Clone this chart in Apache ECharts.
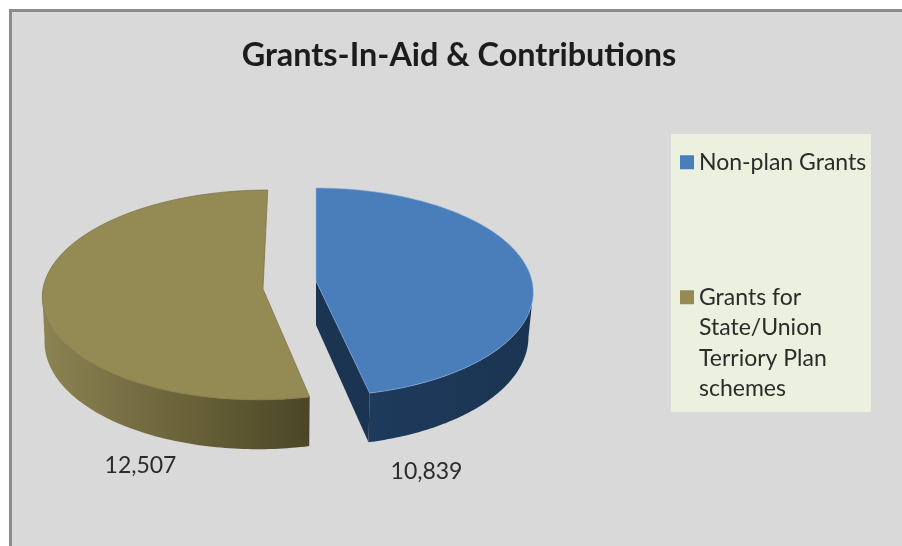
<!DOCTYPE html>
<html>
<head>
<meta charset="utf-8">
<title>Grants-In-Aid &amp; Contributions</title>
<style>html,body{margin:0;padding:0;background:#fff}#chart{width:902px;height:546px}</style>
<script src="https://cdn.jsdelivr.net/npm/echarts@6/dist/echarts.min.js"></script>
</head>
<body>
<div id="chart"></div>
<script>
const chartTitle = 'Grants-In-Aid & Contributions';
const categories = ['Non-plan Grants', 'Grants for\nState/Union\nTerriory Plan\nschemes'];
const grantValues = [10839, 12507];
const total = grantValues[0] + grantValues[1];

const FONT = 'Lato, "Open Sans", sans-serif';
const TEXT = '#2b2b2b';

// Perspective settings for each exploded wedge: centre of the rim, radii,
// foreshortening strength, horizontal lean with depth, and wall height.
const wedgeViews = [
  { cx: 316, cy: 281, rx: 216, ry: 103, k: 0.107, lean: 0, wall: 44, shrink: 0.978,
    face: '#4a7ebb', rim: 'rgba(140,180,225,0.55)',
    outer: ['#1e3a5c', '#1b3452'], inner: '#1b3452', labelX: 426.5, labelY: 472 },
  { cx: 263, cy: 289, rx: 220, ry: 104.6, k: 0.057, lean: -5, wall: 44, shrink: 0.99,
    face: '#948a54', rim: 'rgba(120,112,66,0.7)',
    outer: ['#8c8352', '#4b4625'], inner: '#4b4625', labelX: 140.5, labelY: 466 }
];

// Angles run clockwise from twelve o'clock, in radians.
function rimPoint(view, theta) {
  const u = Math.sin(theta), v = -Math.cos(theta);
  const w = 1 - view.k * v;
  return [view.cx + (view.rx * u + view.lean * v) / w, view.cy + view.ry * v / w];
}
function floorPoint(view, p, v) {
  return [view.cx + (p[0] - view.cx) * view.shrink, p[1] + view.wall * (1 + 0.12 * v)];
}
function arc(view, a, b, mapper) {
  const steps = 90, out = [];
  for (let i = 0; i <= steps; i++) {
    const t = a + (b - a) * i / steps;
    const p = rimPoint(view, t);
    out.push(mapper ? mapper(p, t) : p);
  }
  return out;
}

function renderWedge(view, startValue) {
  return function (params, api) {
    const value = api.value(0);
    const a = startValue / total * Math.PI * 2;
    const b = (startValue + value) / total * Math.PI * 2;
    const apex = [view.cx, view.cy];
    const rightHand = startValue === 0;
    const floor = (p, t) => floorPoint(view, p, -Math.cos(t));
    // The wall is visible only on the near half, up to the silhouette angle.
    const silhouette = Math.acos(-view.k);
    const wallA = rightHand ? silhouette : a;
    const wallB = rightHand ? b : Math.PI * 2 - silhouette;
    const wallTop = arc(view, wallA, wallB);
    const wallBottom = arc(view, wallB, wallA, floor);
    const children = [{
      type: 'polygon',
      shape: { points: wallTop.concat(wallBottom) },
      style: {
        fill: { type: 'linear', x: 0, y: 0, x2: 1, y2: 0,
                colorStops: [{ offset: 0, color: view.outer[0] }, { offset: 1, color: view.outer[1] }] }
      }
    }];
    if (rightHand) {
      // Cut face running from the hub to the near end of the wedge.
      const near = rimPoint(view, b);
      children.push({
        type: 'polygon',
        shape: { points: [apex, near, floorPoint(view, near, -Math.cos(b)), floorPoint(view, apex, 0)] },
        style: { fill: view.inner }
      });
    }
    children.push({
      type: 'polygon',
      shape: { points: [apex].concat(arc(view, a, b)) },
      style: { fill: view.face, stroke: view.rim, lineWidth: 1 }
    });
    children.push({
      type: 'text',
      style: {
        text: value.toLocaleString('en-US'), x: view.labelX, y: view.labelY,
        align: 'center', verticalAlign: 'middle',
        font: '23px ' + FONT, fill: TEXT
      }
    });
    return { type: 'group', children: children };
  };
}

const chart = echarts.init(document.getElementById('chart'), null, { renderer: 'canvas' });
chart.setOption({
  animation: false,
  backgroundColor: '#ffffff',
  title: {
    text: chartTitle, left: 454, top: 35, textAlign: 'center',
    textStyle: { fontFamily: FONT, fontWeight: 'bold', fontSize: 32.4, color: '#1c1c1c' }
  },
  graphic: [
    { type: 'rect', z: -10, silent: true, shape: { x: 10.5, y: 10.5, width: 910, height: 560 },
      style: { fill: '#d9d9d9', stroke: '#8b8b8b', lineWidth: 3 } },
    { type: 'rect', z: -9, silent: true, shape: { x: 671, y: 134, width: 200, height: 278 },
      style: { fill: '#ebf1de' } }
  ],
  legend: {
    orient: 'vertical', left: 680, top: 147,
    padding: 0, itemWidth: 14, itemHeight: 14, itemGap: 13,
    icon: 'rect',
    data: categories,
    // Blank lines above the text keep the marker level with a wrapped name's first line.
    formatter: name => name.indexOf('\n') >= 0 ? '\n\n\n' + name : name,
    textStyle: { fontFamily: FONT, fontSize: 23, lineHeight: 30.5, color: TEXT }
  },
  series: categories.map((name, i) => ({
    type: 'custom',
    name: name,
    coordinateSystem: 'none',
    itemStyle: { color: wedgeViews[i].face },
    data: [[grantValues[i]]],
    renderItem: renderWedge(wedgeViews[i], i === 0 ? 0 : grantValues[0])
  }))
});
</script>
</body>
</html>
